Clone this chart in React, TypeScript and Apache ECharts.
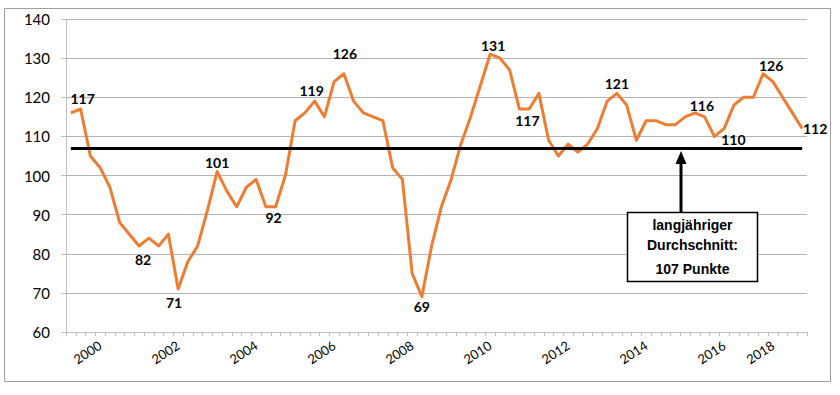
import React, { useEffect, useRef } from "react";
import * as echarts from "echarts";

// Index values per quarter (reading from the chart)
const values: number[] = [
  116, 117, 105, 102, 97, 88, 85, 82, 84, 82,
  85, 71, 78, 82, 91, 101, 96, 92, 97, 99,
  92, 92, 100, 114, 116, 119, 115, 124, 126, 119,
  116, 115, 114, 102, 99, 75, 69, 82, 92, 99,
  108, 115, 123, 131, 130, 127, 117, 117, 121, 109,
  105, 108, 106, 108, 112, 119, 121, 118, 109, 114,
  114, 113, 113, 115, 116, 115, 110, 112, 118, 120,
  120, 126, 124, 120, 116, 112,
];

const AVERAGE = 107;

// Quarter categories starting 1999 Q2
const categories: string[] = values.map((_, i) => {
  const q = i + 1; // 1999 Q2 -> offset 1
  const year = 1999 + Math.floor(q / 4);
  return `${year} Q${(q % 4) + 1}`;
});

// X tick labels and the category index where they are shown
const xTickIndex: number[] = [3, 11, 19, 27, 35, 43, 51, 59, 67, 72];
const xTickLabels: string[] = ["2000", "2002", "2004", "2006", "2008", "2010", "2012", "2014", "2016", "2018"];

// Labelled points: index and label offset [dx, dy]
const labelIndex: number[] = [1, 7, 11, 15, 21, 25, 28, 36, 43, 46, 56, 64, 66, 71, 75];
const labelOffsets: number[][] = [
  [2, -10], [4, 14], [-4, 14], [0, -9], [-2, 11], [-3, -11], [1, -20], [0, 10],
  [3, -9], [8, 12], [0, -10], [7, -7], [19, 3], [8, -8], [13, 0],
];

const annotationLines: string[] = ["langjähriger", "Durchschnitt:", "107 Punkte"];

export default function App() {
  const ref = useRef<HTMLDivElement>(null);

  useEffect(() => {
    document.body.style.margin = "0";
    if (!ref.current) return;
    const chart = echarts.init(ref.current, undefined, { renderer: "svg" });

    const seriesData = values.map((v, i) => {
      const li = labelIndex.indexOf(i);
      if (li < 0) return v;
      return {
        value: v,
        label: {
          show: true,
          position: "inside",
          offset: labelOffsets[li],
          formatter: String(v),
          color: "#000",
          fontFamily: "Lato",
          fontWeight: "bold",
          fontSize: 14,
        },
      };
    });

    const option: any = {
      animation: false,
      backgroundColor: "#fff",
      grid: { left: 66, right: 33, top: 19, bottom: 63, containLabel: false },
      xAxis: {
        type: "category",
        data: categories,
        boundaryGap: true,
        axisLine: { show: true, lineStyle: { color: "#bfbfbf", width: 1 } },
        axisTick: { show: true, interval: 0, length: 4, lineStyle: { color: "#bfbfbf" } },
        axisLabel: {
          interval: (index: number) => xTickIndex.indexOf(index) >= 0,
          formatter: (_v: string, index: number) => {
            const k = xTickIndex.indexOf(index);
            return k >= 0 ? xTickLabels[k] : "";
          },
          rotate: 33,
          margin: 12,
          fontFamily: "Lato",
          fontSize: 13,
          color: "#000",
        },
        splitLine: { show: false },
      },
      yAxis: {
        type: "value",
        min: 60,
        max: 140,
        interval: 10,
        axisLine: { show: true, lineStyle: { color: "#bfbfbf", width: 1 } },
        axisTick: { show: true, length: 5, lineStyle: { color: "#bfbfbf" } },
        axisLabel: { margin: 16, fontFamily: "Lato", fontSize: 15, color: "#000" },
        splitLine: { show: true, lineStyle: { color: "#b3b3b3", width: 1 } },
      },
      series: [
        {
          type: "line",
          data: seriesData,
          symbol: "circle",
          symbolSize: 0.1,
          showSymbol: true,
          itemStyle: { color: "#ED7D31" },
          lineStyle: { color: "#ED7D31", width: 3, join: "round" },
          z: 3,
          markLine: {
            silent: true,
            symbol: ["none", "none"],
            label: { show: false },
            lineStyle: { color: "#000", width: 3, type: "solid" },
            data: [[{ coord: [0, AVERAGE] }, { coord: [values.length - 1, AVERAGE] }]],
          },
        },
      ],
      graphic: [
        {
          type: "rect",
          shape: { x: 4.5, y: 8.5, width: 826, height: 373 },
          style: { fill: "none", stroke: "#a0a0a0", lineWidth: 1 },
          silent: true,
          z: -1,
        },
        {
          type: "line",
          shape: { x1: 681, y1: 212, x2: 681, y2: 160 },
          style: { stroke: "#000", lineWidth: 3 },
          z: 10,
        },
        {
          type: "polygon",
          shape: { points: [[681, 151], [675.5, 164], [686.5, 164]] },
          style: { fill: "#000" },
          z: 10,
        },
        {
          type: "rect",
          shape: { x: 627.5, y: 212.5, width: 130, height: 69 },
          style: { fill: "#fff", stroke: "#000", lineWidth: 1.5 },
          z: 10,
        },
        ...annotationLines.map((t, i) => ({
          type: "text",
          x: 692.5,
          y: [224.5, 244.5, 268.5][i],
          style: {
            text: t,
            fill: "#000",
            font: "bold 14px 'Liberation Sans', Arial, sans-serif",
            textAlign: "center",
            textVerticalAlign: "middle",
          },
          z: 11,
        })),
      ],
    };

    chart.setOption(option);
    return () => chart.dispose();
  }, []);

  return <div ref={ref} style={{ width: 840, height: 395 }} />;
}
